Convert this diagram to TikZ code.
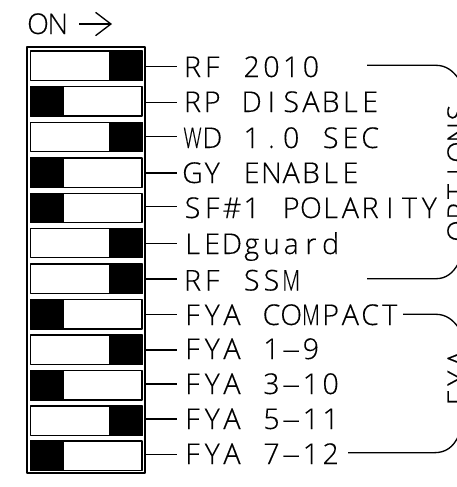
\documentclass[tikz,border=0pt]{standalone}
\usepackage{fontspec}
\setmainfont{Open Sans Light}[FakeBold=0.25]
\usetikzlibrary{arrows.meta}
\makeatletter
\newlength{\monopitch}\setlength{\monopitch}{14.8pt}
\def\mono#1{\mono@loop#1\mono@end}
\def\mono@loop#1{\ifx#1\mono@end\else\makebox[\monopitch][c]{#1}\expandafter\mono@loop\fi}
\makeatother
\newcommand{\hy}{\scalebox{2.3}[1]{-}}
\newcommand{\nw}[1]{\scalebox{0.72}[1]{#1}}
\tikzset{
  every picture/.style={x=0.75pt,y=-0.75pt,line width=1pt,line join=round},
  swbody/.style={draw,fill=white,minimum width=83.6pt,minimum height=22pt,inner sep=0pt},
  swknob/.style={draw,fill=black,minimum width=24.4pt,minimum height=22pt,inner sep=0pt},
  framebox/.style={draw,minimum width=88.5pt,minimum height=319.5pt,inner sep=0pt},
  lab/.style={anchor=base west,inner sep=0pt,font=\fontsize{21.5}{21.5}\selectfont},
  sidelab/.style={lab,rotate=90},
}
% #1 id, #2 centre y, #3 knob anchor, #4 leader y, #5 baseline y, #6 text
\newcommand{\swrow}[6]{%
  \node[swbody] (s#1) at (86.25,#2) {};
  \node[swknob,anchor=#3] (k#1) at (s#1.#3) {};
  \node[lab] (t#1) at (182,#5) {\mono{#6}};
  \coordinate (la#1) at (146,#4);
  \coordinate (lb#1) at (177,#4);
  \draw (la#1) -- (lb#1);
}
\begin{document}
\begin{tikzpicture}
\useasboundingbox (0,0) rectangle (457,487);
\clip (0,0) rectangle (457,487);
\fill[white] (0,0) rectangle (457,487);
\node[framebox] (frame) at (86,260) {};
\node[lab] (on) at (27.5,34) {\mono{ON}};
\coordinate (a1) at (79,24);
\coordinate (a2) at (112,24);
\draw[-{Straight Barb[length=11.5pt,width=17.5pt]}] (a1) -- (a2);
\swrow{1}{65.5}{east}{66.7}{77}{RF~2010}
\swrow{2}{101.2}{west}{102.7}{112}{RP~DISABLE}
\swrow{3}{136.9}{east}{136.7}{148}{{\nw{W}}D~1.0~SEC}
\swrow{4}{172.5}{west}{173}{183}{GY~ENABLE}
\swrow{5}{208}{west}{206.7}{218}{SF{\#}1~POLARITY}
\swrow{6}{243}{east}{243.5}{254}{LEDguard}
\swrow{7}{278.7}{east}{279}{290.5}{RF~SS{\nw{M}}}
\swrow{8}{314.2}{west}{314.3}{325}{FYA~CO{\nw{M}}PACT}
\swrow{9}{349.8}{east}{350}{359}{FYA~1{\hy}9}
\swrow{10}{385.3}{west}{384}{394}{FYA~3{\hy}10}
\swrow{11}{420.5}{east}{419}{429}{FYA~5{\hy}11}
\swrow{12}{455.5}{west}{454.3}{464}{FYA~7{\hy}12}
% brackets
\coordinate (oa) at (367,65.3);
\coordinate (ob) at (436,65.3);
\coordinate (oc) at (458,78);
\coordinate (od) at (367,278.7);
\coordinate (oe) at (436,278.7);
\coordinate (of) at (458,264);
\draw (oa) -- (ob) .. controls (446,65.3) and (453,71) .. (oc);
\draw (od) -- (oe) .. controls (446,278.7) and (453,273) .. (of);
\coordinate (fa) at (403,314.3);
\coordinate (fb) at (436,314.3);
\coordinate (fc) at (458,327);
\coordinate (fd) at (348,452.7);
\coordinate (fe) at (434,452.7);
\coordinate (ff) at (458,437);
\draw (fa) -- (fb) .. controls (446,314.3) and (453,320) .. (fc);
\draw (fd) -- (fe) .. controls (446,452.7) and (453,447) .. (ff);
\node[sidelab] (optlab) at (468,241.5) {\mono{OPTIONS}};
\node[sidelab] (fyalab) at (468,408.5) {\mono{FYA}};
\end{tikzpicture}
\end{document}
